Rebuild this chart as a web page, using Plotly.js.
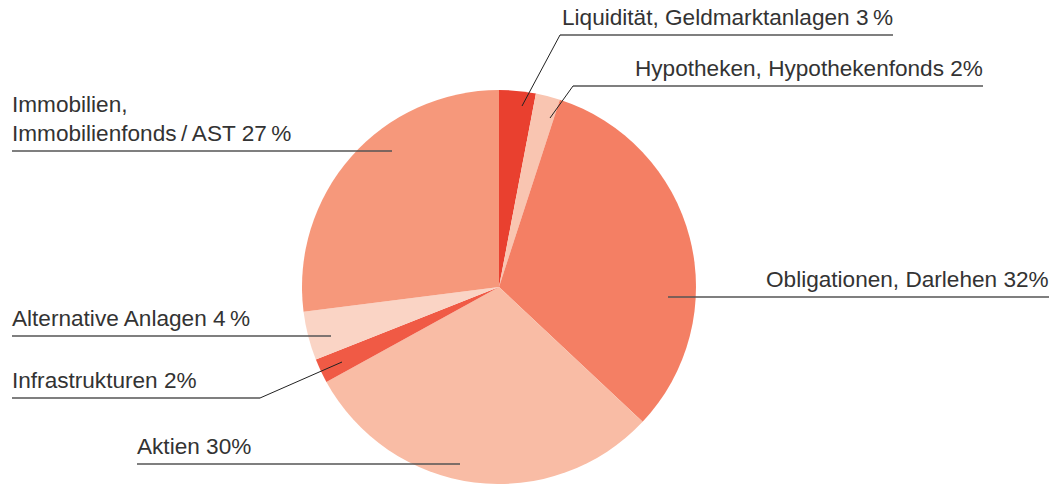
<!DOCTYPE html>
<html><head><meta charset="utf-8">
<script src="https://cdn.plot.ly/plotly-3.0.1.min.js"></script>
<style>html,body{margin:0;padding:0;background:#fff}</style>
</head><body><div id="chart" style="width:1052px;height:484px"></div>
<script>
const categories = ["Liquidität, Geldmarktanlagen","Hypotheken, Hypothekenfonds","Obligationen, Darlehen","Aktien","Infrastrukturen","Alternative Anlagen","Immobilien, Immobilienfonds / AST"];
const values = [3, 2, 32, 30, 2, 4, 27];
const labelTexts = ["Liquidität, Geldmarktanlagen 3\u2009%","Hypotheken, Hypothekenfonds 2%","Obligationen, Darlehen 32%","Aktien 30%","Infrastrukturen 2%","Alternative Anlagen 4\u2009%","Immobilien,<br>Immobilienfonds\u2009/\u2009AST 27\u2009%"];
const colors = ["#E9402F","#F9C5B1","#F47F64","#F9BCA5","#F05A45","#FAD4C5","#F6987B"];

const W = 1052, H = 484;
const px = x => x / W, py = y => 1 - y / H;
const lay = [
  {x0:560,x1:893,y:35,anchor:'right',lx:522,ly:106},
  {x0:573,x1:983,y:86,anchor:'right',lx:550,ly:118},
  {x0:668,x1:1049,y:297,anchor:'right'},
  {x0:137,x1:460,y:464,anchor:'left'},
  {x0:12,x1:260,y:398,anchor:'left',lx:342,ly:362},
  {x0:12,x1:331,y:336,anchor:'left'},
  {x0:12,x1:392,y:151,anchor:'left'}
];
const shapes = [], annotations = [];
lay.forEach((l,i)=>{
  shapes.push({type:'line',xref:'paper',yref:'paper',x0:px(l.x0),x1:px(l.x1),y0:py(l.y),y1:py(l.y),line:{color:'#555',width:1.3}});
  if (l.lx!==undefined){
    const sx = l.anchor==='right'? l.x0 : l.x1;
    shapes.push({type:'line',xref:'paper',yref:'paper',x0:px(sx),y0:py(l.y),x1:px(l.lx),y1:py(l.ly),line:{color:'#222',width:1}});
  }
  annotations.push({xref:'paper',yref:'paper',x:px(l.anchor==='right'?l.x1+2:l.x0-2),y:py(l.y-3),
    xanchor:l.anchor,yanchor:'bottom',align:'left',showarrow:false,text:labelTexts[i],
    font:{family:'Liberation Sans, Arial, sans-serif',size:22.6,color:'#333'}});
});

const data = [{type:'pie',labels:categories,values:values,sort:false,direction:'clockwise',rotation:0,
  marker:{colors:colors,line:{width:0}},textinfo:'none',hoverinfo:'label+percent',
  domain:{x:[302/W,696/W],y:[0,394/H]},showlegend:false}];
const layout = {width:W,height:H,margin:{l:0,r:0,t:0,b:0},paper_bgcolor:'#fff',shapes:shapes,annotations:annotations,showlegend:false};
Plotly.newPlot('chart',data,layout,{displayModeBar:false,staticPlot:true});
</script></body></html>
